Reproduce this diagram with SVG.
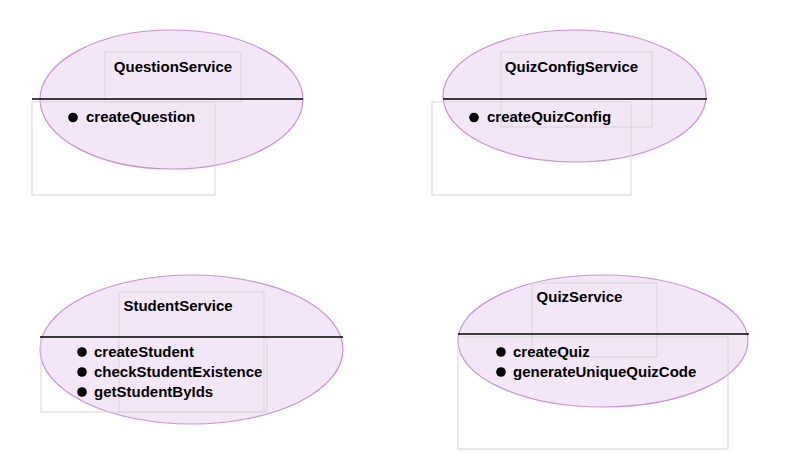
<svg xmlns="http://www.w3.org/2000/svg" width="810" height="453" viewBox="0 0 810 453">
<style>
.ell{fill:#f3e6f6;stroke:#cc8fd6;stroke-width:1.2}
.box{fill:none;stroke:#d6d6d6;stroke-width:1}
.sep{stroke:#000;stroke-width:1.5}
.t{font-family:"Liberation Sans",Arial,sans-serif;font-weight:bold;font-size:15px;fill:#000;dominant-baseline:central}
.b{fill:#000}
</style>
<rect width="810" height="453" fill="#fff"/>
<g id="QuestionService">
<ellipse class="ell" cx="171.5" cy="99.5" rx="131.5" ry="69.5"/>
<rect class="box" x="105" y="52" width="136" height="50"/>
<rect class="box" x="32" y="102" width="183" height="93"/>
<line class="sep" x1="32" y1="99" x2="303" y2="99"/>
<text class="t" x="173" y="66" text-anchor="middle">QuestionService</text>
<circle class="b" cx="73" cy="117.5" r="4.8"/>
<text class="t" x="86" y="116">createQuestion</text>
</g>
<g id="QuizConfigService">
<ellipse class="ell" cx="574.5" cy="96" rx="131.5" ry="66"/>
<rect class="box" x="501" y="52" width="151" height="75"/>
<rect class="box" x="432" y="102" width="199" height="93"/>
<line class="sep" x1="443" y1="99" x2="707" y2="99"/>
<text class="t" x="571.5" y="66" text-anchor="middle">QuizConfigService</text>
<circle class="b" cx="474" cy="117.5" r="4.8"/>
<text class="t" x="487" y="116">createQuizConfig</text>
</g>
<g id="StudentService">
<ellipse class="ell" cx="191.5" cy="349.5" rx="151.5" ry="74.5"/>
<rect class="box" x="119" y="292" width="145" height="120"/>
<rect class="box" x="41" y="337" width="226" height="75"/>
<line class="sep" x1="40" y1="337" x2="343" y2="337"/>
<text class="t" x="178" y="305" text-anchor="middle">StudentService</text>
<circle class="b" cx="82" cy="352" r="4.8"/>
<text class="t" x="94" y="351">createStudent</text>
<circle class="b" cx="82" cy="372" r="4.8"/>
<text class="t" x="94" y="371">checkStudentExistence</text>
<circle class="b" cx="82" cy="392" r="4.8"/>
<text class="t" x="94" y="391">getStudentByIds</text>
</g>
<g id="QuizService">
<ellipse class="ell" cx="603" cy="341" rx="145" ry="66"/>
<rect class="box" x="532" y="283" width="125" height="74"/>
<rect class="box" x="458" y="337" width="270" height="112"/>
<line class="sep" x1="458" y1="334" x2="749" y2="334"/>
<text class="t" x="579.5" y="296" text-anchor="middle">QuizService</text>
<circle class="b" cx="501" cy="352" r="4.8"/>
<text class="t" x="513" y="351">createQuiz</text>
<circle class="b" cx="501" cy="372" r="4.8"/>
<text class="t" x="513" y="371">generateUniqueQuizCode</text>
</g>
<g id="connectors"></g>
</svg>
